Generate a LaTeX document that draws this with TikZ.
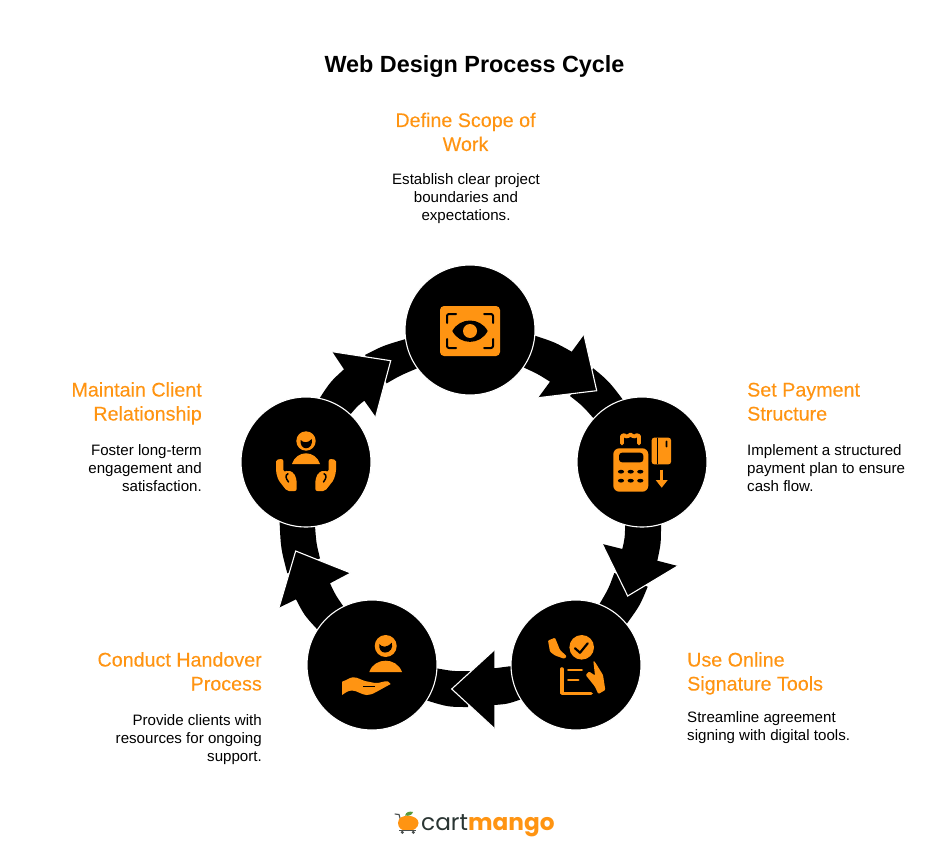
\documentclass[tikz,border=0pt]{standalone}
\usepackage{fontspec}
\setmainfont{Liberation Sans}
\newfontfamily\popfont{Poppins}
\newfontfamily\headfont[FakeBold=0.25]{Liberation Sans}
\usetikzlibrary{backgrounds}
\definecolor{mango}{HTML}{FF9412}
\definecolor{logodark}{HTML}{2A3533}
\definecolor{leafgreen}{HTML}{5B9A3C}
\definecolor{cartgrey}{HTML}{4A4F4E}
\tikzset{
  stepcircle/.style={circle,fill=black,draw=white,line width=1.1pt,minimum size=130pt,inner sep=0pt,outer sep=0pt},
  band/.style={fill=black,draw=none},
  headedge/.style={draw=white,line width=1.1pt,line join=miter,fill=none},
  heading/.style={inner sep=0pt,text=mango,font=\fontsize{19.7}{24}\selectfont\headfont},
  bodytext/.style={inner sep=0pt,text=black,font=\fontsize{15.1}{18}\selectfont},
  titletext/.style={inner sep=0pt,text=black,font=\fontsize{23.4}{28}\selectfont\bfseries},
  icon/.style={fill=mango,draw=none},
  iconcut/.style={fill=black,draw=none},
  iconline/.style={draw=mango,line cap=round,line join=round,fill=none},
  cutline/.style={draw=black,line cap=round,line join=round,fill=none}
}
\begin{document}
\begin{tikzpicture}[x=1pt,y=-1pt]
\useasboundingbox (0,0) rectangle (949,866);

% step circles
\node[stepcircle] (c1) at (470,330) {};
\node[stepcircle] (c2) at (642,462) {};
\node[stepcircle] (c3) at (576,665) {};
\node[stepcircle] (c4) at (372,665) {};
\node[stepcircle] (c5) at (306,462) {};

\begin{scope}[on background layer]
  % arrow 1 : c1 -> c2
  \fill[band] (593.3,368.3) .. controls (609,381.4) .. (c2.107.4) -- (c2.138) .. controls (582.5,405.8) .. (570,396) -- cycle;
  \fill[band] (c1.-5) .. controls (555,342.3) .. (571.7,351.7) -- (584,335) -- (596.7,390.7) -- (538.3,397.7) -- (550,381.7) .. controls (537.7,373.9) .. (c1.-35) -- cycle;
  \draw[headedge] (584,335) -- (596.7,390.7) -- (538.3,397.7);
  % arrow 2 : c2 -> c3
  \fill[band] (647.7,586.7) .. controls (640,605.4) .. (c3.39) -- (c3.69) .. controls (608.5,588.8) .. (614.3,573) -- cycle;
  \fill[band] (c2.-73) .. controls (661,543.5) .. (657.3,560.7) -- (677.7,566) -- (627.7,596) -- (602.3,544) -- (622.3,549) .. controls (624.8,538.2) .. (c2.-105) -- cycle;
  \draw[headedge] (677.7,566) -- (627.7,596) -- (602.3,544);
  % arrow 3 : c3 -> c4
  \fill[band] (470,671) .. controls (453.5,671.3) .. (c4.-3) -- (c4.-33.5) .. controls (448,707) .. (468,707) -- cycle;
  \fill[band] (c3.181) .. controls (502,667.5) .. (494.3,668.3) -- (494.3,650) -- (451.7,689) -- (494.3,728.3) -- (494.3,705) .. controls (507.2,704) .. (c3.212.7) -- cycle;
  \draw[headedge] (494.3,650) -- (451.7,689) -- (494.3,728.3);
  % arrow 4 : c4 -> c5
  \fill[band] (287.3,573.3) .. controls (280.8,548.4) .. (c5.246) -- (c5.-82) .. controls (316.3,543.4) .. (320,558.3) -- cycle;
  \fill[band] (c4.147) .. controls (304.2,615.2) .. (296,599.3) -- (279,607.7) -- (295.7,551) -- (350,572.7) -- (330,583.3) .. controls (335.3,594.7) .. (c4.116.5) -- cycle;
  \draw[headedge] (279,607.7) -- (295.7,551) -- (350,572.7);
  % arrow 5 : c5 -> c1
  \fill[band] (365,355) .. controls (383,345.7) .. (c1.188.5) -- (c1.216) .. controls (400.2,375.5) .. (386.7,383.3) -- cycle;
  \fill[band] (c5.78) .. controls (330.5,381.6) .. (344,369.3) -- (332.3,351.7) -- (390.7,360.7) -- (375.7,416.7) -- (364.3,400.7) .. controls (357.5,406) .. (c5.47) -- cycle;
  \draw[headedge] (332.3,351.7) -- (390.7,360.7) -- (375.7,416.7);
\end{scope}

% icon 1 : eye in frame
\fill[icon,rounded corners=4pt] (440,306) rectangle (500,356);
\draw[cutline,line width=2pt,rounded corners=2pt] (447,323) -- (447,314) -- (456,314);
\draw[cutline,line width=2pt,rounded corners=2pt] (484,314) -- (493,314) -- (493,323);
\draw[cutline,line width=2pt,rounded corners=2pt] (447,339) -- (447,348) -- (456,348);
\draw[cutline,line width=2pt,rounded corners=2pt] (484,348) -- (493,348) -- (493,339);
\fill[iconcut] (452.3,331) .. controls (460,317) and (480,317) .. (487.7,331) .. controls (480,345.5) and (460,345.5) .. (452.3,331) -- cycle;
\fill[icon] (470,331) circle[radius=7];

% icon 2 : payment terminal
\fill[icon,rounded corners=6pt] (613.3,448.3) rectangle (648.3,491.7);
\fill[iconcut,rounded corners=3pt] (619,452.7) rectangle (643.3,462.3);
\foreach \px in {621,630.7,640.3}{
  \fill[iconcut] (\px,471.7) ellipse[x radius=3.1,y radius=1.9];
  \fill[iconcut] (\px,480.7) ellipse[x radius=3.1,y radius=1.9];
}
\draw[iconline,line width=3.8pt] (622,443.5) -- (622,436) .. controls (624,434.8) .. (626,436.4) .. controls (628,437.8) and (628.5,434.6) .. (630.5,434.6) .. controls (632.5,434.6) and (633,437.8) .. (635,436.4) .. controls (636.5,434.8) .. (639,436) -- (639,443.5);
\fill[icon,rounded corners=2.5pt] (651.7,437.7) rectangle (671,464.3);
\draw[black,line width=1.4pt] (657.3,437.7) -- (657.3,464.3);
\fill[iconcut,rounded corners=.7pt] (665.7,440.7) rectangle (667.4,447.3);
\draw[mango,line width=2.6pt] (661.7,469.5) -- (661.7,482);
\fill[icon] (655.7,480) -- (667.7,480) -- (661.7,487.7) -- cycle;

% icon 3 : signature
\fill[icon] (581.7,647.3) circle[radius=12.3];
\draw[cutline,line width=2.2pt] (575,648.3) -- (580,652.7) -- (587.7,643.3);
\draw[iconline,line width=3.6pt] (561.7,669) -- (561.7,693.3) -- (591,693.3);
\draw[iconline,line width=2.6pt] (568.3,670) -- (581.7,670);
\draw[iconline,line width=2.6pt] (568.3,680) -- (578.3,680);
\fill[icon,rounded corners=1pt] (548,640.5) -- (555,637.7) -- (560,650) -- (566.7,656.2) -- (564.5,658.8) -- (555,655.5) -- (550,651.7) -- cycle;
\fill[icon,rounded corners=1pt] (593.3,660.7) -- (595,662) -- (603,675) -- (605.3,690) -- (598.3,694) -- (595,686.7) -- (585.7,675) -- (589,671.5) -- (595,675.5) -- cycle;

% icon 4 : handover
\fill[icon] (385.7,646) circle[radius=11];
\fill[iconcut] (379.3,644) .. controls (382,647.5) and (387,648) .. (391.7,642.7) .. controls (393.5,648) and (390,652.6) .. (385,652.6) .. controls (381,652.6) and (378.5,648.5) .. (379.3,644) -- cycle;
\fill[icon] (369.3,672) .. controls (372,664) and (379,660.7) .. (385.7,660.7) .. controls (392,660.7) and (399,664) .. (402,672) -- cycle;
\fill[icon] (342,681.7) .. controls (347,680) and (350,677.3) .. (353.3,677.3) .. controls (358,677.3) and (361,680) .. (365,681) -- (375,683) .. controls (380,683.5) and (384,680.5) .. (388,681.5) -- (390.7,684) -- (376.7,691.7) .. controls (372,694.5) and (369,695) .. (366.7,695) .. controls (362,695) and (357,690.5) .. (352,690.5) .. controls (348,690.5) and (345,693) .. (342,695) -- cycle;
\draw[black,line width=1pt] (363.3,686) -- (375,686);

% icon 5 : client care
\fill[icon] (306,441) circle[radius=9.7];
\fill[iconcut] (300.7,440) .. controls (303,442.8) and (308,443.5) .. (311.7,439) .. controls (313,444) and (310,448.3) .. (306,448.3) .. controls (302,448.3) and (300,444) .. (300.7,440) -- cycle;
\fill[icon] (292,464) .. controls (294,457) and (300,453.3) .. (306,453.3) .. controls (312,453.3) and (318,457) .. (320,464) -- cycle;
\foreach \hs/\ha in {0/1,612/-1}{
  \begin{scope}[shift={(\hs,0)},xscale=\ha]
    \fill[icon,rounded corners=2pt] (276,459.5) -- (283.3,459) -- (283.5,472) -- (288.3,470.3) -- (294,473) -- (296.7,480) -- (296.7,491) -- (287,491) -- (278.3,480) -- (276,472) -- cycle;
    \draw[cutline,line width=1.5pt] (288,473.8) .. controls (285,475) and (285.5,478) .. (288.5,482);
  \end{scope}
}

% logo
\fill[leafgreen] (405,815.5) .. controls (406,812) and (409,811) .. (413,812) .. controls (412,815) and (409,816.5) .. (405,815.5) -- cycle;
\draw[cartgrey,line width=1.1pt,line cap=round] (395,814) -- (399,814.5) -- (400.5,820);
\fill[mango] (398,823) .. controls (398,817.5) and (403,815.8) .. (408,815.8) .. controls (414,815.8) and (418.5,819) .. (418.5,823) .. controls (418.5,828) and (413,831) .. (408,831) .. controls (402,831) and (398,828) .. (398,823) -- cycle;
\draw[cartgrey,line width=.8pt] (399,830.5) -- (416,830.5);
\fill[cartgrey] (402.3,832.3) circle[radius=1.7];
\fill[cartgrey] (413.3,832.3) circle[radius=1.7];
\node[inner sep=0pt,anchor=base west] (logo) at (421,830) {\fontsize{23.2}{26}\selectfont\popfont\textcolor{logodark}{cart}\textcolor{mango}{\bfseries mango}};

% texts
\node[titletext,anchor=base] (title) at (474.5,72.3) {Web Design Process Cycle};

\node[heading,align=center,anchor=base] (h1) at (465.5,151) {Define Scope of\\Work};
\node[bodytext,align=center,anchor=base] (b1) at (466,220.5) {Establish clear project\\boundaries and\\expectations.};

\node[heading,align=left,anchor=base west] (h2) at (747,420.5) {Set Payment\\Structure};
\node[bodytext,align=left,anchor=base west] (b2) at (747,491) {Implement a structured\\payment plan to ensure\\cash flow.};

\node[heading,align=left,anchor=base west] (h3) at (687,690.5) {Use Online\\Signature Tools};
\node[bodytext,align=left,anchor=base west] (b3) at (687,740) {Streamline agreement\\signing with digital tools.};

\node[heading,align=right,anchor=base east] (h4) at (262,690.5) {Conduct Handover\\Process};
\node[bodytext,align=right,anchor=base east] (b4) at (262,761) {Provide clients with\\resources for ongoing\\support.};

\node[heading,align=right,anchor=base east] (h5) at (202,420.5) {Maintain Client\\Relationship};
\node[bodytext,align=right,anchor=base east] (b5) at (202,491) {Foster long-term\\engagement and\\satisfaction.};
\end{tikzpicture}
\end{document}
